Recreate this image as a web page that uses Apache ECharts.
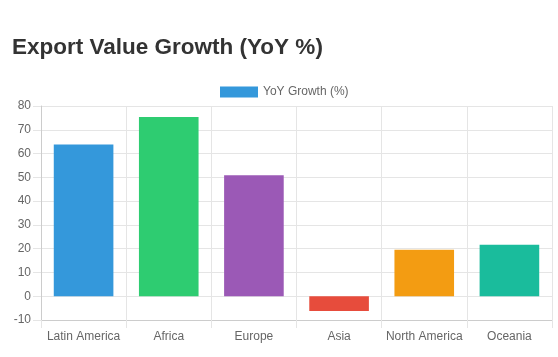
<!DOCTYPE html>
<html>
<head>
<meta charset="utf-8">
<script src="https://cdn.jsdelivr.net/npm/echarts@6/dist/echarts.min.js"></script>
<style>
html,body{margin:0;padding:0;background:#fff;}
#c{width:558px;height:357px;}
</style>
</head>
<body>
<div id="c"></div>
<script>
const categories = ['Latin America', 'Africa', 'Europe', 'Asia', 'North America', 'Oceania'];
const growthValues = [63.8, 75.4, 50.9, -6.2, 19.5, 21.6];
const barColors = ['#3498db', '#2ecc71', '#9b59b6', '#e74c3c', '#f39c12', '#1abc9c'];
const seriesName = 'YoY Growth (%)';
const yTicks = { min: -10, max: 80, interval: 10 };

const chart = echarts.init(document.getElementById('c'), null, { renderer: 'canvas' });
const font = 'Liberation Sans, Arial, Helvetica, sans-serif';
chart.setOption({
  animation: false,
  backgroundColor: '#fff',
  title: {
    text: 'Export Value Growth (YoY %)',
    left: 7, top: 31,
    textStyle: { fontFamily: font, fontSize: 22.5, fontWeight: 'bold', color: '#333' }
  },
  legend: {
    data: [seriesName],
    top: 81, left: 215,
    itemWidth: 38, itemHeight: 11, itemGap: 8,
    icon: 'rect',
    textStyle: { fontFamily: font, fontSize: 12, color: '#666' }
  },
  grid: { left: 41, right: 6, top: 106, bottom: 37, containLabel: false },
  xAxis: {
    type: 'category',
    data: categories,
    boundaryGap: true,
    axisLine: { onZero: false, lineStyle: { color: '#ccc' } },
    axisTick: { show: true, interval: 0, length: 8, lineStyle: { color: '#e5e5e5' } },
    splitLine: { show: true, interval: 0, lineStyle: { color: '#e5e5e5' } },
    axisLabel: { interval: 0, margin: 11, fontFamily: font, fontSize: 12, color: '#666' }
  },
  yAxis: {
    type: 'value',
    min: yTicks.min, max: yTicks.max, interval: yTicks.interval,
    axisLine: { show: true, lineStyle: { color: '#ccc' } },
    axisTick: { show: true, length: 8, lineStyle: { color: '#e5e5e5' } },
    splitLine: { show: true, lineStyle: { color: '#e5e5e5' } },
    axisLabel: { margin: 10, fontFamily: font, fontSize: 12, color: '#666' }
  },
  series: [{
    name: seriesName,
    type: 'bar',
    barCategoryGap: '30%',
    itemStyle: { color: barColors[0] },
    data: growthValues.map((v, i) => ({ value: v, itemStyle: { color: barColors[i] } }))
  }]
});
</script>
</body>
</html>
